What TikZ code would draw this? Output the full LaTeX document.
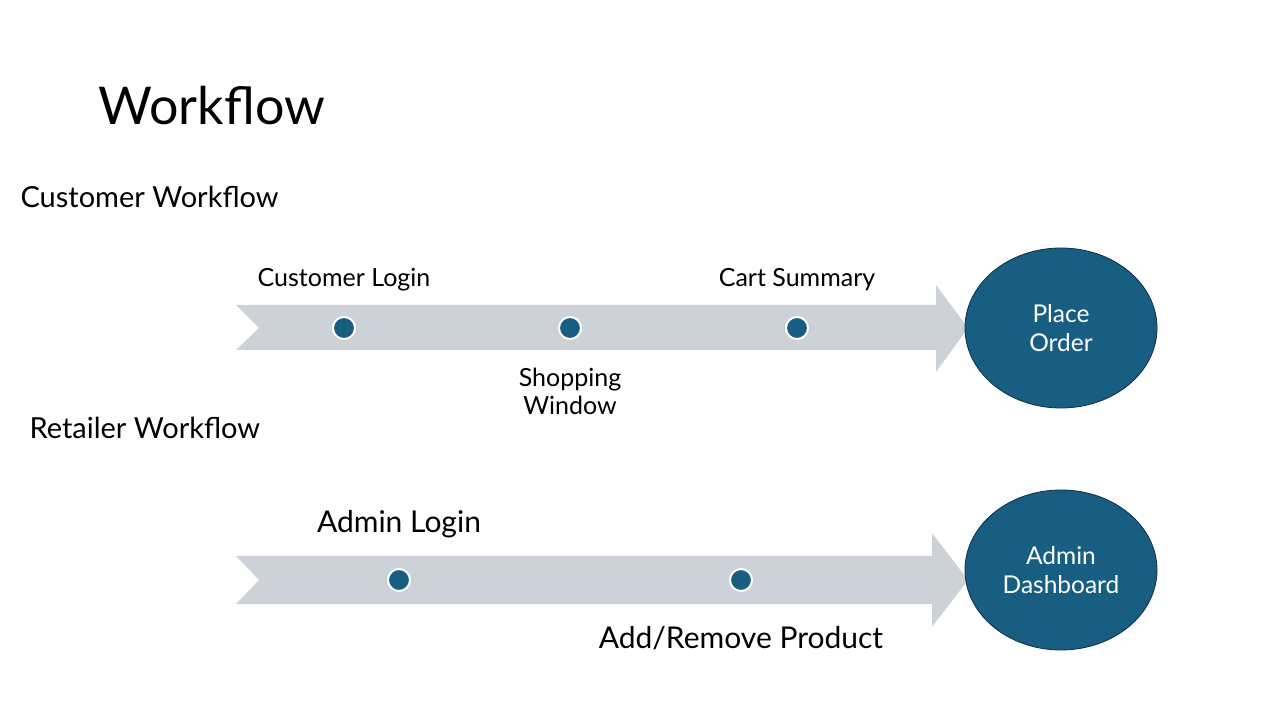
\documentclass[tikz,border=0pt]{standalone}
\usepackage{fontspec}
\setmainfont{Lato}
\usetikzlibrary{shapes.geometric}
\definecolor{stepblue}{HTML}{175E82}
\definecolor{stepedge}{HTML}{0E2F40}
\definecolor{bandgray}{HTML}{CDD2D9}
\tikzset{
	bigtitle/.style={anchor=base west, font=\fontsize{52}{56}\selectfont},
	lanetitle/.style={anchor=base west, font=\fontsize{29}{32}\selectfont},
	steplabel/.style={anchor=base, font=\fontsize{25}{28}\selectfont},
	adminlabel/.style={anchor=base, font=\fontsize{30}{32}\selectfont},
	stepdot/.style={circle, fill=stepblue, draw=white, line width=2pt, minimum size=22pt, inner sep=0pt},
	goal/.style={ellipse, fill=stepblue, draw=stepedge, line width=0.8pt, minimum width=192pt, minimum height=160pt, text=white, align=center, font=\fontsize{24.5}{29}\selectfont}
}
\begin{document}
\begin{tikzpicture}[x=1pt, y=1pt]
			%%%%% START %%%%%
			
			\useasboundingbox[fill=white] (0, 0) rectangle (1280, 720);
			
			\node[bigtitle] (title) at (95, 595) {Workflow};
			\node[lanetitle] (custtitle) at (17, 512) {Customer Workflow};
			\node[lanetitle] (retailtitle) at (26, 281) {Retailer Workflow};
			
			% customer lane
			\fill[bandgray] (236, 415) -- (936, 415) -- (936, 435) -- (968, 392) -- (936, 348) -- (936, 370) -- (236, 370) -- (259, 392) -- cycle;
			\node[goal] (order) at (1061, 392) {Place\\Order};
			\node[stepdot] (login) at (344, 392) {};
			\node[stepdot] (shop) at (570, 392) {};
			\node[stepdot] (cart) at (797, 392) {};
			\node[steplabel] (loginlabel) at (344, 433) {Customer Login};
			\node[steplabel, align=center, anchor=center] (shoplabel) at (570, 329) {Shopping\\Window};
			\node[steplabel] (cartlabel) at (797, 433) {Cart Summary};
			
			% retailer lane
			\fill[bandgray] (236, 164) -- (932, 164) -- (932, 187) -- (968, 140) -- (932, 93) -- (932, 116) -- (236, 116) -- (259, 140) -- cycle;
			\node[goal] (dashboard) at (1061, 150) {Admin\\Dashboard};
			\node[stepdot] (admin) at (399, 140) {};
			\node[stepdot] (product) at (741, 140) {};
			\node[adminlabel] (adminlabel) at (399, 187) {Admin Login};
			\node[adminlabel] (productlabel) at (741, 71) {Add/Remove Product};
			
			%%%%% END %%%%%
\end{tikzpicture}
\end{document}
